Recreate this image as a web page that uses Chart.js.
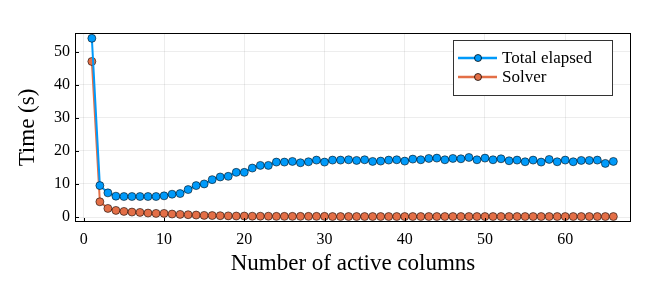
<!DOCTYPE html>
<html>
<head>
<meta charset="utf-8">
<script src="https://cdn.jsdelivr.net/npm/chart.js@4.4.1/dist/chart.umd.min.js"></script>
<style>
  html, body { margin: 0; padding: 0; background: #fff; }
  #wrap { width: 664px; height: 285px; }
</style>
</head>
<body>
<div id="wrap"><canvas id="timeChart" width="664" height="285"></canvas></div>
<script>
const columns = [1, 2, 3, 4, 5, 6, 7, 8, 9, 10, 11, 12, 13, 14, 15, 16, 17, 18, 19, 20,
  21, 22, 23, 24, 25, 26, 27, 28, 29, 30, 31, 32, 33, 34, 35, 36, 37, 38, 39, 40,
  41, 42, 43, 44, 45, 46, 47, 48, 49, 50, 51, 52, 53, 54, 55, 56, 57, 58, 59, 60,
  61, 62, 63, 64, 65, 66];

const totalElapsed = [54, 9.5, 7.3, 6.3, 6.2, 6.2, 6.2, 6.2, 6.2, 6.4, 6.9, 7.1, 8.3, 9.5, 10.0, 11.3, 12.1, 12.3, 13.5, 13.5,
  14.8, 15.6, 15.6, 16.6, 16.6, 16.8, 16.4, 16.7, 17.2, 16.6, 17.2, 17.2, 17.3, 17.1, 17.3, 16.8, 16.9, 17.2, 17.3, 16.9,
  17.5, 17.3, 17.7, 17.8, 17.3, 17.7, 17.6, 18.0, 17.3, 17.8, 17.3, 17.6, 17.0, 17.2, 16.7, 17.2, 16.6, 17.4, 16.7, 17.2,
  16.7, 17.1, 17.1, 17.2, 16.2, 16.8];

const solver = [47, 4.6, 2.6, 2.0, 1.7, 1.5, 1.4, 1.2, 1.1, 1.1, 0.9, 0.8, 0.7, 0.6, 0.5, 0.45, 0.4, 0.35, 0.3, 0.3,
  0.25, 0.25, 0.25, 0.2, 0.2, 0.2, 0.2, 0.2, 0.2, 0.2, 0.15, 0.15, 0.15, 0.15, 0.15, 0.15, 0.15, 0.15, 0.15, 0.15,
  0.15, 0.15, 0.15, 0.15, 0.15, 0.15, 0.15, 0.15, 0.15, 0.15, 0.15, 0.15, 0.15, 0.15, 0.15, 0.15, 0.15, 0.15, 0.15, 0.15,
  0.15, 0.15, 0.15, 0.15, 0.15, 0.15];

const xTicks = [0, 10, 20, 30, 40, 50, 60];
const yTicks = [0, 10, 20, 30, 40, 50];

const FONT = "'Liberation Serif', 'DejaVu Serif', serif";
const BLUE = "#009AFA";
const ORANGE = "#E36F47";

function toPoints(ys) {
  return columns.map((c, i) => ({ x: c, y: ys[i] }));
}

// frame, inward ticks and legend box, like the Plots.jl look
const framePlugin = {
  id: "frame",
  afterDraw(chart) {
    const { ctx, chartArea: a, scales } = chart;
    ctx.save();
    ctx.strokeStyle = "#000";
    ctx.lineWidth = 1;
    ctx.strokeRect(a.left + 0.5, a.top + 0.5, a.right - a.left - 1, a.bottom - a.top - 1);
    ctx.beginPath();
    yTicks.forEach(v => {
      const y = Math.round(scales.y.getPixelForValue(v)) + 0.5;
      ctx.moveTo(a.left, y);
      ctx.lineTo(a.left + 4, y);
    });
    xTicks.forEach(v => {
      const x = Math.round(scales.x.getPixelForValue(v)) + 0.5;
      ctx.moveTo(x, a.bottom);
      ctx.lineTo(x, a.bottom - 4);
    });
    ctx.stroke();

    // legend
    const box = { x: 453, y: 40, w: 159, h: 55 };
    ctx.fillStyle = "#fff";
    ctx.fillRect(box.x, box.y, box.w, box.h);
    ctx.strokeStyle = "#333";
    ctx.strokeRect(box.x + 0.5, box.y + 0.5, box.w, box.h);
    chart.data.datasets.forEach((ds, i) => {
      const y = box.y + 18 + i * 19;
      ctx.strokeStyle = ds.borderColor;
      ctx.lineWidth = 2.5;
      ctx.beginPath();
      ctx.moveTo(box.x + 5, y);
      ctx.lineTo(box.x + 44, y);
      ctx.stroke();
      ctx.beginPath();
      ctx.arc(box.x + 25, y, 3.5, 0, Math.PI * 2);
      ctx.fillStyle = ds.pointBackgroundColor;
      ctx.fill();
      ctx.lineWidth = 1;
      ctx.strokeStyle = "rgba(0,0,0,0.75)";
      ctx.stroke();
      ctx.fillStyle = "#000";
      ctx.font = "17px " + FONT;
      ctx.textBaseline = "middle";
      ctx.textAlign = "left";
      ctx.fillText(ds.label, box.x + 49, y + 1);
    });
    ctx.restore();
  }
};

const onlyTicks = list => scale => {
  scale.ticks = list.map(v => ({ value: v }));
};

new Chart(document.getElementById("timeChart").getContext("2d"), {
  type: "line",
  data: {
    datasets: [
      {
        label: "Total elapsed",
        data: toPoints(totalElapsed),
        borderColor: BLUE,
        backgroundColor: BLUE,
        pointBackgroundColor: BLUE,
        pointBorderColor: "rgba(0,0,0,0.7)",
        pointBorderWidth: 0.8,
        pointRadius: 4,
        borderWidth: 2,
        tension: 0
      },
      {
        label: "Solver",
        data: toPoints(solver),
        borderColor: ORANGE,
        backgroundColor: ORANGE,
        pointBackgroundColor: ORANGE,
        pointBorderColor: "rgba(0,0,0,0.7)",
        pointBorderWidth: 0.8,
        pointRadius: 4,
        borderWidth: 2,
        tension: 0
      }
    ]
  },
  options: {
    responsive: false,
    animation: false,
    layout: {
      padding: { top: 33, right: 33, bottom: 0, left: 0 }
    },
    scales: {
      x: {
        type: "linear",
        min: -1.1,
        max: 68.2,
        afterBuildTicks: onlyTicks(xTicks),
        afterFit: scale => { scale.height = 63; },
        ticks: {
          padding: 8,
          maxRotation: 0,
          font: { family: FONT, size: 16 },
          color: "#000"
        },
        grid: { color: "rgba(0,0,0,0.07)", drawTicks: false },
        border: { display: false },
        title: {
          display: true,
          text: "Number of active columns",
          font: { family: FONT, size: 23 },
          color: "#000",
          padding: { top: 0, bottom: 7 }
        }
      },
      y: {
        min: -1.5,
        max: 55.6,
        afterBuildTicks: onlyTicks(yTicks),
        afterFit: scale => { scale.width = 75; },
        ticks: {
          padding: 5,
          font: { family: FONT, size: 16 },
          color: "#000"
        },
        grid: { color: "rgba(0,0,0,0.07)", drawTicks: false },
        border: { display: false },
        title: {
          display: true,
          text: "Time (s)",
          font: { family: FONT, size: 23 },
          color: "#000",
          padding: { top: 14, bottom: 0 }
        }
      }
    },
    plugins: {
      legend: { display: false },
      tooltip: { enabled: false }
    }
  },
  plugins: [framePlugin]
});
</script>
</body>
</html>
